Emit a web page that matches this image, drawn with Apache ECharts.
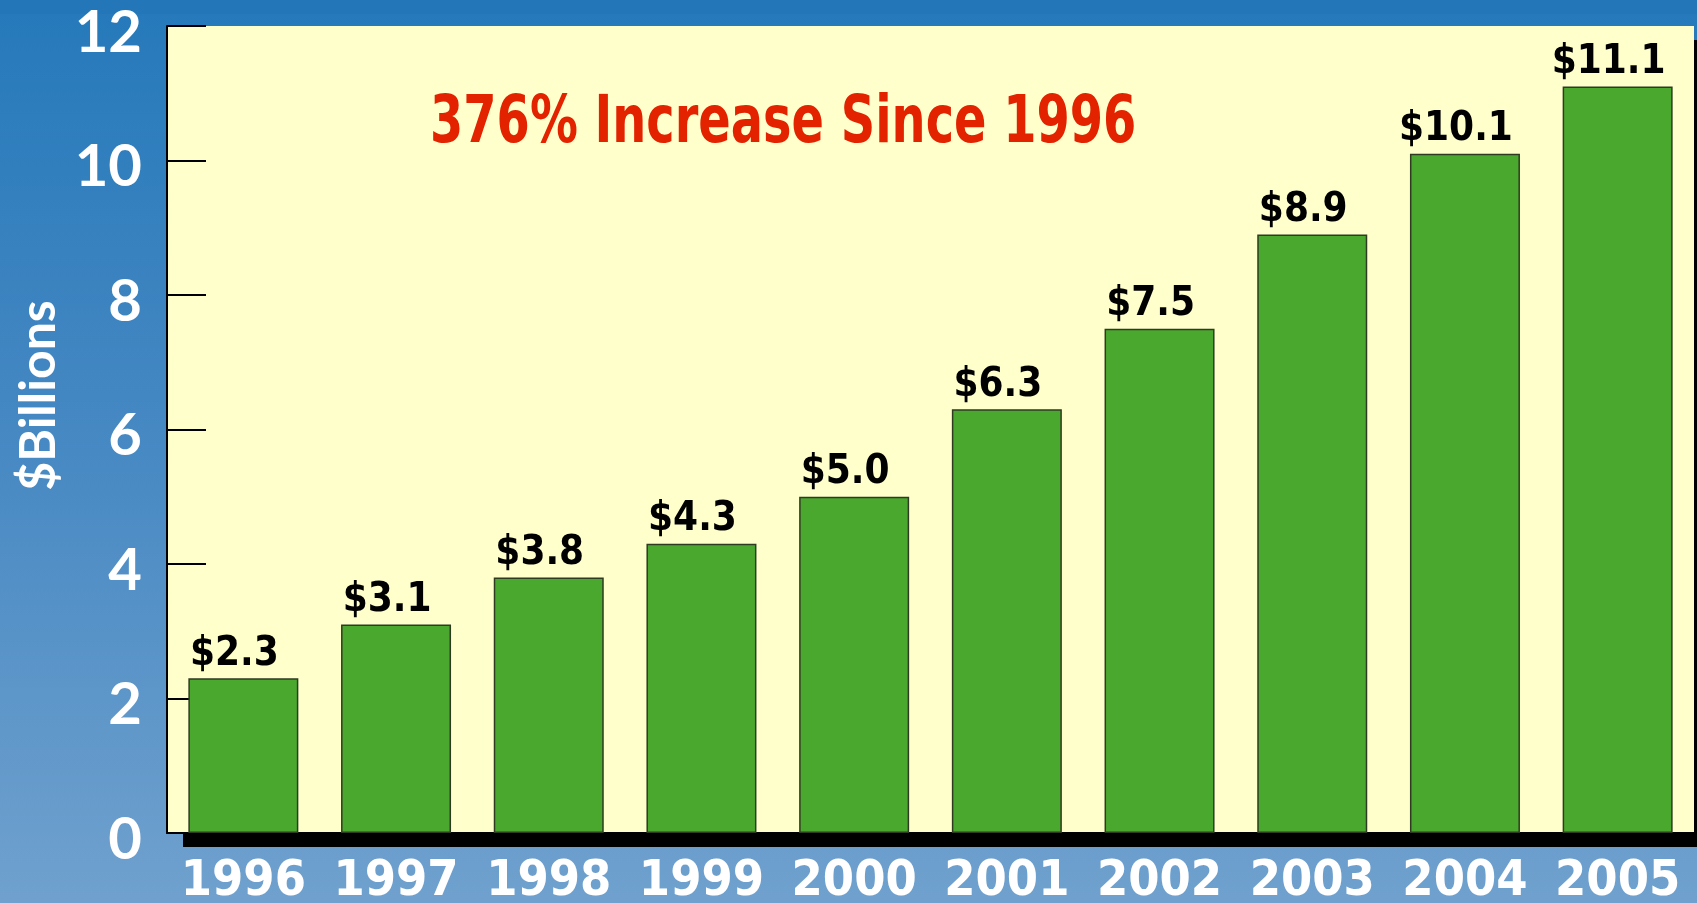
<!DOCTYPE html>
<html>
<head>
<meta charset="utf-8">
<title>376% Increase Since 1996</title>
<script src="https://cdn.jsdelivr.net/npm/echarts@6/dist/echarts.min.js"></script>
<style>
  html, body { margin: 0; padding: 0; }
  #chart { width: 1697px; height: 903px; }
</style>
</head>
<body>
<div id="chart"></div>
<script>
// data
var years = ['1996', '1997', '1998', '1999', '2000', '2001', '2002', '2003', '2004', '2005'];
var billions = [2.3, 3.1, 3.8, 4.3, 5.0, 6.3, 7.5, 8.9, 10.1, 11.1];
var titleText = '376% Increase Since 1996';
var yName = '$Billions';

var narrow = "'DejaVu Sans Condensed', 'Liberation Sans', sans-serif";
var wide = "Lato, 'Liberation Sans', sans-serif";

var myChart = echarts.init(document.getElementById('chart'));

var option = {
  backgroundColor: {
    type: 'linear', x: 0, y: 0, x2: 0, y2: 1,
    colorStops: [
      { offset: 0, color: '#2579ba' },
      { offset: 0.5, color: '#4789c3' },
      { offset: 1, color: '#70a1ce' }
    ]
  },
  animation: false,
  graphic: [
    // darker strip along the top edge
    { type: 'rect', left: 0, top: 0, z: -1, shape: { width: 1697, height: 14 }, style: { fill: '#2376b7' } },
    // headline, squeezed sideways like the condensed original
    {
      type: 'text',
      x: 430,
      y: 92,
      scaleX: 0.806,
      z: 10,
      style: {
        text: titleText,
        fill: '#e32200',
        font: 'bold 66px ' + narrow,
        verticalAlign: 'top'
      }
    }
  ],
  grid: {
    left: 167,
    right: 3,
    top: 26,
    bottom: 70,
    outerBoundsMode: 'none',
    show: true,
    backgroundColor: '#ffffcc',
    borderWidth: 0,
    // hard black drop shadow under / right of the plot
    shadowColor: '#000000',
    shadowBlur: 0,
    shadowOffsetX: 16,
    shadowOffsetY: 14
  },
  xAxis: {
    type: 'category',
    data: years,
    axisLine: { lineStyle: { color: '#000', width: 2 } },
    axisTick: { inside: true, length: 20, lineStyle: { color: '#000', width: 2 } },
    axisLabel: {
      interval: 0,
      color: '#ffffff',
      fontFamily: narrow,
      fontWeight: 'bold',
      fontSize: 50,
      margin: 24
    }
  },
  yAxis: {
    type: 'value',
    min: 0,
    max: 12,
    interval: 2,
    name: yName,
    nameLocation: 'middle',
    nameRotate: 90,
    nameGap: 81,
    nameTextStyle: {
      color: '#ffffff',
      fontFamily: wide,
      fontWeight: 'bold',
      fontSize: 50,
      padding: [0, 0, 0, 68]
    },
    splitLine: { show: false },
    axisLine: { show: true, lineStyle: { color: '#000', width: 2 } },
    axisTick: { show: true, inside: true, length: 39, lineStyle: { color: '#000', width: 2 } },
    axisLabel: {
      color: '#ffffff',
      fontFamily: wide,
      fontWeight: 'bold',
      fontSize: 58,
      margin: 25,
      verticalAlign: 'top',
      lineHeight: 14
    }
  },
  series: [
    {
      name: yName,
      type: 'bar',
      data: billions,
      barWidth: 110,
      itemStyle: {
        color: '#4aa82e',
        borderColor: '#2e3b22',
        borderWidth: 1.5
      },
      label: {
        show: true,
        position: 'top',
        distance: 4,
        offset: [-9, 0],
        color: '#000000',
        fontFamily: narrow,
        fontWeight: 'bold',
        fontSize: 40,
        formatter: function (p) {
          return '$' + p.value.toFixed(1);
        }
      }
    }
  ]
};

myChart.setOption(option);
</script>
</body>
</html>
